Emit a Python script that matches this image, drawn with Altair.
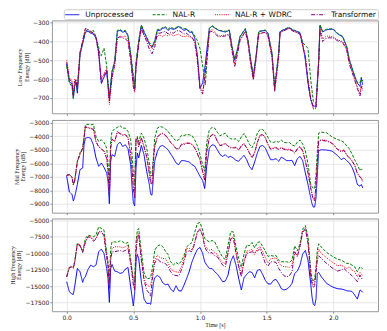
import altair as alt
import pandas as pd

SERIES = ["Unprocessed", "NAL-R", "NAL-R + WDRC", "Transformer"]
COLORS = ["#0000ff", "#008000", "#ff0000", "#800080"]
DASHES = [[1, 0], [3, 1.5], [1, 1.2], [4, 1.5, 1, 1.5]]

# ---------------- Low frequency panel ----------------
T_LOW = [0.00,0.02,0.04,0.05,0.06,0.07,0.08,0.10,0.12,0.14,
         0.16,0.18,0.20,0.22,0.24,0.25,0.26,0.28,0.30,0.32,
         0.34,0.36,0.38,0.40,0.42,0.44,0.46,0.48,0.50,0.51,
         0.52,0.54,0.56,0.58,0.60,0.62,0.64,0.66,0.68,0.70,
         0.72,0.74,0.76,0.78,0.80,0.82,0.84,0.86,0.88,0.90,
         0.92,0.94,0.96,0.98,1.00,1.02,1.04,1.06,1.07,1.09,
         1.14,1.19,1.22,1.24,1.26,1.28,1.30,1.34,1.36,1.38,
         1.40,1.42,1.44,1.46,1.49,1.51,1.54,1.56,1.59,1.60,
         1.62,1.65,1.67,1.70,1.72,1.75,1.77,1.79,1.81,1.83,
         1.85,1.87,1.89,1.90,1.92,1.94,1.96,2.00,2.03,2.07,
         2.10,2.12,2.16,2.18,2.20,2.21,2.22]

LOW_UNPROC = [-520,-615,-625,-700,-640,-615,-675,-470,-410,-350,
              -345,-355,-360,-380,-450,-540,-620,-590,-560,-700,
              -560,-510,-345,-340,-350,-345,-370,-470,-600,-650,
              -520,-400,-315,-350,-380,-415,-430,-400,-340,-340,
              -330,-325,-340,-330,-335,-330,-320,-330,-340,-335,
              -350,-350,-380,-470,-650,-620,-520,-390,-330,-318,
              -340,-349,-340,-428,-498,-446,-375,-332,-393,-498,
              -586,-481,-349,-344,-340,-358,-463,-647,-463,-349,
              -340,-330,-327,-340,-344,-354,-411,-498,-621,-709,
              -744,-744,-498,-314,-349,-340,-335,-335,-358,-375,
              -428,-498,-586,-621,-639,-595,-630]
LOW_NALR = [-530,-620,-640,-705,-612,-620,-660,-470,-405,-345,
            -335,-350,-340,-375,-430,-470,-475,-435,-530,-700,
            -560,-500,-340,-335,-345,-340,-365,-460,-580,-640,
            -510,-395,-312,-345,-375,-405,-425,-395,-335,-335,
            -325,-320,-335,-322,-330,-325,-318,-325,-332,-330,
            -345,-345,-370,-395,-437,-530,-630,-430,-330,-315,
            -340,-345,-338,-425,-495,-440,-372,-330,-390,-495,
            -580,-478,-345,-342,-338,-355,-460,-640,-460,-345,
            -338,-328,-325,-338,-342,-352,-405,-420,-437,-600,
            -720,-730,-500,-310,-345,-337,-332,-332,-355,-372,
            -425,-495,-583,-618,-620,-590,-610]
LOW_WDRC = [-500,-590,-610,-690,-600,-610,-640,-460,-400,-330,
            -340,-350,-355,-375,-460,-530,-600,-570,-545,-735,
            -600,-530,-385,-370,-375,-370,-390,-490,-640,-670,
            -540,-410,-330,-370,-385,-410,-440,-410,-370,-365,
            -375,-360,-370,-360,-370,-365,-360,-370,-375,-370,
            -375,-380,-400,-480,-640,-670,-560,-420,-345,-335,
            -370,-365,-360,-440,-520,-460,-390,-345,-400,-510,
            -600,-490,-360,-355,-350,-370,-480,-660,-480,-355,
            -345,-335,-330,-345,-350,-360,-420,-470,-600,-700,
            -760,-755,-520,-330,-385,-375,-370,-375,-390,-400,
            -440,-510,-600,-640,-680,-630,-650]
LOW_TRANS = [-510,-600,-615,-690,-620,-600,-650,-455,-395,-330,
             -335,-345,-355,-380,-470,-545,-625,-580,-550,-720,
             -590,-520,-380,-375,-380,-385,-400,-500,-640,-665,
             -545,-420,-330,-365,-400,-440,-465,-430,-355,-355,
             -350,-345,-360,-350,-355,-345,-340,-350,-360,-355,
             -370,-375,-405,-500,-650,-680,-570,-430,-350,-345,
             -375,-370,-365,-450,-535,-470,-395,-345,-410,-520,
             -605,-495,-360,-355,-350,-370,-485,-665,-485,-355,
             -345,-335,-330,-345,-350,-360,-425,-480,-610,-705,
             -755,-750,-520,-340,-400,-385,-380,-380,-395,-405,
             -445,-520,-605,-650,-690,-640,-660]

# ---------------- Mid / High frequency panels ----------------
T_MH = [0.00,0.02,0.04,0.05,0.06,0.08,0.10,0.12,0.13,0.14,
        0.16,0.18,0.20,0.22,0.24,0.26,0.28,0.30,0.31,0.32,
        0.33,0.34,0.36,0.38,0.40,0.42,0.44,0.46,0.48,0.49,
        0.50,0.51,0.52,0.53,0.54,0.56,0.58,0.60,0.62,0.63,
        0.64,0.65,0.66,0.68,0.70,0.72,0.74,0.76,0.78,0.80,
        0.82,0.84,0.86,0.88,0.90,0.92,0.94,0.96,0.98,1.00,
        1.02,1.035,1.05,1.07,1.09,1.11,1.13,1.15,1.17,1.19,
        1.21,1.23,1.25,1.27,1.29,1.31,1.33,1.35,1.37,1.39,
        1.41,1.43,1.45,1.47,1.49,1.51,1.53,1.55,1.57,1.59,
        1.61,1.63,1.65,1.67,1.69,1.71,1.73,1.75,1.77,1.79,
        1.81,1.83,1.84,1.85,1.86,1.87,1.88,1.89,1.91,1.95,
        1.99,2.03,2.06,2.08,2.10,2.12,2.14,2.16,2.18,2.20,
        2.21,2.22]

MID_UNPROC = [-6960,-8115,-8310,-8800,-8510,-7575,-6470,-6345,-4625,-4130,
              -4080,-4130,-4625,-5605,-6220,-5975,-6300,-6715,-7330,-9000,
              -5850,-5360,-5485,-4625,-4425,-4745,-4625,-4920,-6100,-7695,
              -8925,-9170,-6345,-5240,-5605,-4670,-5360,-6590,-7575,-8310,
              -8360,-7080,-5850,-5115,-4745,-4670,-4820,-4990,-5310,-5605,
              -5975,-6100,-5800,-5800,-5850,-5900,-6100,-6220,-6590,-6960,
              -7280,-7870,-6220,-4870,-4625,-4670,-5000,-5350,-5485,-5360,
              -5560,-5485,-5605,-5780,-5850,-5605,-5410,-5730,-6220,-6470,
              -5900,-5240,-4745,-4670,-4870,-5310,-5730,-5730,-5655,-5850,
              -5535,-5655,-5800,-5800,-5780,-6170,-5655,-5485,-5800,-6715,
              -7575,-8560,-9000,-9245,-9245,-8560,-6835,-5065,-4990,-5015,
              -5090,-5410,-5730,-5605,-5800,-5975,-6300,-6790,-7575,-7695,
              -7575,-7820]
MID_NALR = [-6885,-6835,-7030,-7575,-7280,-5850,-5210,-4870,-4130,-3150,
            -3100,-3150,-3100,-4010,-4380,-4255,-4450,-4870,-5975,-7450,
            -4380,-3640,-3440,-3340,-3200,-3390,-3390,-3640,-4255,-5360,
            -6715,-7575,-4130,-4010,-4380,-3760,-4130,-4870,-5975,-6960,
            -6885,-5605,-4130,-3390,-3270,-3320,-3440,-3640,-3885,-4130,
            -4330,-4255,-3935,-3935,-3860,-3885,-3935,-4255,-4700,-5360,
            -6100,-6590,-4500,-3515,-3340,-3390,-3700,-3950,-3860,-3760,
            -4060,-4180,-4205,-4180,-4380,-4035,-3790,-4130,-4575,-4845,
            -4450,-3760,-3490,-3490,-3740,-4080,-4425,-4450,-4380,-4425,
            -4280,-4450,-4475,-4450,-4625,-4720,-4425,-4280,-4575,-5065,
            -6050,-7525,-7720,-7870,-7870,-6835,-5115,-3760,-3690,-3740,
            -4035,-4230,-4330,-4450,-4700,-4920,-5310,-5730,-6100,-6540,
            -6420,-6540]
MID_WDRC = [-6885,-6835,-7030,-7575,-7280,-5850,-5310,-4870,-4130,-3270,
            -3340,-3390,-3440,-4380,-4745,-4920,-5065,-5605,-6590,-8260,
            -4870,-4180,-4380,-3640,-3760,-3885,-3840,-4080,-5360,-6345,
            -7820,-8435,-4255,-4080,-4745,-4080,-4745,-5485,-6715,-7450,
            -7525,-5850,-4745,-4010,-3840,-3760,-3885,-4130,-4425,-4625,
            -4870,-4920,-4575,-4550,-4475,-4475,-4575,-4820,-5240,-5730,
            -6590,-7205,-5115,-4080,-3840,-3885,-4350,-4650,-4600,-4500,
            -4700,-4820,-4820,-4795,-4990,-4670,-4525,-4820,-5190,-5560,
            -5190,-4425,-3885,-3840,-4080,-4575,-4920,-4870,-4795,-4945,
            -4820,-4920,-4970,-4945,-5015,-5215,-4895,-4745,-5040,-5800,
            -6665,-7770,-8260,-8630,-8755,-7575,-5850,-4330,-4255,-4305,
            -4475,-4920,-5115,-4990,-5360,-5560,-5800,-6100,-6715,-6985,
            -7080,-7330]
MID_TRANS = [-6900,-6850,-7050,-7600,-7300,-5900,-5350,-4900,-4150,-3300,
             -3380,-3420,-3480,-4400,-4780,-4950,-5100,-5650,-6650,-8400,
             -4900,-4200,-4400,-3680,-3800,-3920,-3880,-4120,-5400,-6400,
             -7900,-8560,-4300,-4120,-4780,-4120,-4780,-5520,-6760,-7500,
             -7560,-5900,-4780,-4050,-3880,-3800,-3920,-4170,-4470,-4670,
             -4920,-4960,-4620,-4600,-4520,-4520,-4620,-4860,-5280,-5770,
             -6640,-7250,-5160,-4120,-3880,-3920,-4380,-4690,-4640,-4540,
             -4740,-4860,-4860,-4840,-5030,-4710,-4570,-4860,-5230,-5600,
             -5230,-4470,-3930,-3880,-4120,-4620,-4960,-4910,-4840,-4990,
             -4860,-4960,-5010,-4990,-5060,-5260,-4940,-4790,-5080,-5850,
             -6720,-7820,-8320,-8700,-8820,-7650,-5900,-4370,-4300,-4350,
             -4520,-4960,-5160,-5040,-5400,-5600,-5840,-6150,-6760,-7030,
             -7120,-7380]

HIGH_UNPROC = [-14320,-15840,-16190,-16240,-15080,-12310,-12810,-14420,-13820,-13570,
               -12460,-11800,-12060,-11800,-9790,-9380,-10040,-12310,-13820,-17450,
               -12310,-11700,-12710,-12810,-13060,-12960,-12410,-12160,-15080,-16590,
               -18000,-16000,-11300,-10190,-10800,-14320,-16950,-17600,-17600,-17750,
               -16340,-14580,-13720,-13370,-13670,-14480,-14780,-14680,-15430,-15840,
               -14930,-15690,-15740,-14830,-13820,-12710,-11300,-10290,-9430,-9130,
               -10040,-11300,-11800,-12310,-12310,-12810,-13160,-13720,-14320,-14220,
               -13320,-11300,-10390,-11800,-13820,-15580,-13720,-13220,-12810,-12910,
               -13720,-12610,-12460,-13220,-14120,-14630,-14680,-14120,-13970,-14580,
               -15380,-15580,-15430,-15130,-14580,-13060,-12710,-11800,-10140,-9590,
               -11050,-14580,-16590,-17750,-17950,-16950,-13060,-12910,-13570,-14580,
               -15080,-15380,-15430,-15530,-15690,-15740,-15790,-16340,-16950,-15580,
               -15690,-15940]
HIGH_NALR = [-13570,-12160,-12060,-12210,-11300,-8530,-8780,-9790,-8780,-7770,
             -7270,-7370,-7520,-7270,-6010,-6260,-6510,-9890,-11300,-14320,
             -9280,-8280,-8280,-8380,-8130,-8280,-8530,-8380,-10800,-12560,
             -13920,-14320,-8280,-6510,-6260,-9790,-12960,-13870,-13820,-13620,
             -12560,-11300,-9540,-8930,-8730,-8980,-9690,-10190,-11300,-11800,
             -11400,-11700,-11200,-10390,-9030,-8680,-8380,-6860,-5500,-5350,
             -6510,-7770,-8020,-8280,-8080,-8280,-9130,-9890,-10640,-10950,
             -8780,-6760,-6760,-9030,-10800,-12160,-10140,-8780,-8880,-8380,
             -9180,-8380,-8280,-8980,-9690,-10490,-10340,-10440,-10340,-11100,
             -11300,-11300,-11300,-11400,-11050,-8880,-9640,-8530,-6360,-5810,
             -7470,-12560,-13920,-14320,-13820,-12060,-9540,-8580,-9080,-9890,
             -10440,-10900,-11050,-11300,-11550,-11550,-11800,-12060,-12810,-12060,
             -12210,-12310]
HIGH_WDRC = [-13570,-12160,-12060,-12210,-11300,-8530,-8780,-9790,-9030,-8280,
             -7420,-7520,-8020,-7770,-6760,-6660,-7270,-10540,-11800,-15080,
             -10800,-9280,-9030,-9030,-9030,-9200,-9030,-8780,-11300,-12810,
             -14580,-15330,-9790,-7270,-7020,-10800,-13820,-14830,-15080,-14830,
             -13570,-12310,-11150,-10290,-10650,-10800,-10800,-11450,-12310,-12710,
             -12810,-12910,-12060,-10800,-9280,-9280,-9490,-8280,-6760,-6260,
             -7270,-8780,-9280,-9540,-9430,-9890,-10190,-10900,-11400,-11550,
             -9790,-7770,-7520,-9790,-11800,-13220,-11300,-9690,-9590,-9380,
             -10190,-9280,-8980,-9790,-10700,-11450,-10850,-10800,-10700,-11450,
             -11900,-12060,-12060,-12160,-11800,-9790,-10390,-9030,-6610,-6210,
             -8180,-12910,-14320,-14830,-14580,-12810,-10290,-9380,-10040,-10700,
             -11300,-11900,-11800,-12060,-12310,-12060,-12560,-12810,-13570,-12910,
             -13110,-13420]
HIGH_TRANS = [-13570,-12160,-12060,-12260,-11400,-8630,-8880,-9890,-9130,-8380,
              -7520,-7620,-8180,-7870,-6860,-6760,-7370,-10640,-11900,-15330,
              -11050,-9790,-9790,-9690,-9590,-9740,-9590,-9280,-11550,-13060,
              -14830,-15580,-10040,-7520,-7270,-11050,-14070,-15580,-16090,-16590,
              -14320,-12810,-11550,-10800,-11300,-11450,-11550,-12060,-12810,-13320,
              -13370,-13470,-12560,-11300,-9790,-9640,-9790,-8530,-6860,-6360,
              -7370,-9030,-9640,-10040,-9890,-10400,-10540,-11200,-11800,-12060,
              -10040,-7870,-7670,-10040,-12060,-13570,-11300,-10040,-9890,-9790,
              -9890,-9690,-9280,-10390,-11550,-11950,-11300,-11300,-11400,-12310,
              -12910,-13420,-13570,-13420,-12810,-9790,-10540,-8880,-6860,-6310,
              -8530,-13320,-14580,-15230,-14930,-12810,-11050,-10390,-10800,-11550,
              -12210,-12710,-12560,-12310,-12710,-13060,-13420,-13820,-14320,-13320,
              -13720,-14070]

X_TICKS = [0.0, 0.5, 1.0, 1.5, 2.0]
LOW_TICKS = [-300, -400, -500, -600, -700]
MID_TICKS = [-3000, -4000, -5000, -6000, -7000, -8000, -9000]
HIGH_TICKS = [-5000, -7500, -10000, -12500, -15000, -17500]


def frame(times, lists):
    rows = []
    for k, (name, vals) in enumerate(zip(SERIES, lists)):
        for tt, vv in zip(times, vals):
            rows.append({"t": tt, "v": vv, "series": name, "k": k})
    return pd.DataFrame(rows)


legend = alt.Legend(orient="none", legendX=12, legendY=-11.2, direction="horizontal",
                    title=None)


def panel(df, domain, ticks, title, bottom, h):
    if bottom:
        xaxis = alt.Axis(values=X_TICKS, format=".1f", title="Time [s]", titlePadding=1)
    else:
        xaxis = alt.Axis(values=X_TICKS, labels=False, title=None)
    return alt.Chart(df).mark_line(strokeWidth=1, clip=True).encode(
        x=alt.X("t:Q", scale=alt.Scale(domain=[-0.111, 2.335], nice=False, zero=False),
                axis=xaxis),
        y=alt.Y("v:Q", scale=alt.Scale(domain=domain, nice=False, zero=False),
                axis=alt.Axis(values=ticks, format="d", title=title)),
        color=alt.Color("series:N", scale=alt.Scale(domain=SERIES, range=COLORS), legend=legend),
        strokeDash=alt.StrokeDash("series:N", scale=alt.Scale(domain=SERIES, range=DASHES),
                                  legend=legend),
        detail="k:N",
    ).properties(width=327, height=h)


p1 = panel(frame(T_LOW, [LOW_UNPROC, LOW_NALR, LOW_WDRC, LOW_TRANS]), [-782, -287],
           LOW_TICKS, ["Low Frequency", "Energy [dB]"], False, 93.1)
p2 = panel(frame(T_MH, [MID_UNPROC, MID_NALR, MID_WDRC, MID_TRANS]), [-9664, -2780],
           MID_TICKS, ["Mid Frequency", "Energy [dB]"], False, 93)
p3 = panel(frame(T_MH, [HIGH_UNPROC, HIGH_NALR, HIGH_WDRC, HIGH_TRANS]), [-18790, -4740],
           HIGH_TICKS, ["High Frequency", "Energy [dB]"], True, 93)

chart = alt.vconcat(p1, p2, p3, spacing=5.8, bounds="flush").resolve_scale(
    y="independent"
).properties(padding=0).configure_view(
    stroke="#999999", strokeWidth=1
).configure_axis(
    labelFont="DejaVu Sans", labelFontSize=6, labelColor="#222222", labelPadding=1,
    tickSize=2, tickColor="#444444", tickWidth=0.6,
    domain=False, gridColor="#dddddd", gridWidth=0.7,
    titleFont="Liberation Serif", titleFontSize=6, titleFontWeight="normal",
    titleColor="#222222", titlePadding=3, titleLineHeight=6.5
).configure_legend(
    labelFont="DejaVu Sans", labelFontSize=7.5, labelColor="#111111",
    symbolType="M-1,0H2.5", symbolSize=64, symbolStrokeWidth=1,
    strokeColor="#cccccc", padding=1, cornerRadius=2,
    columnPadding=16.5, labelOffset=11.5
)

chart.save("out.html", embed_options={"renderer": "svg", "actions": False})
